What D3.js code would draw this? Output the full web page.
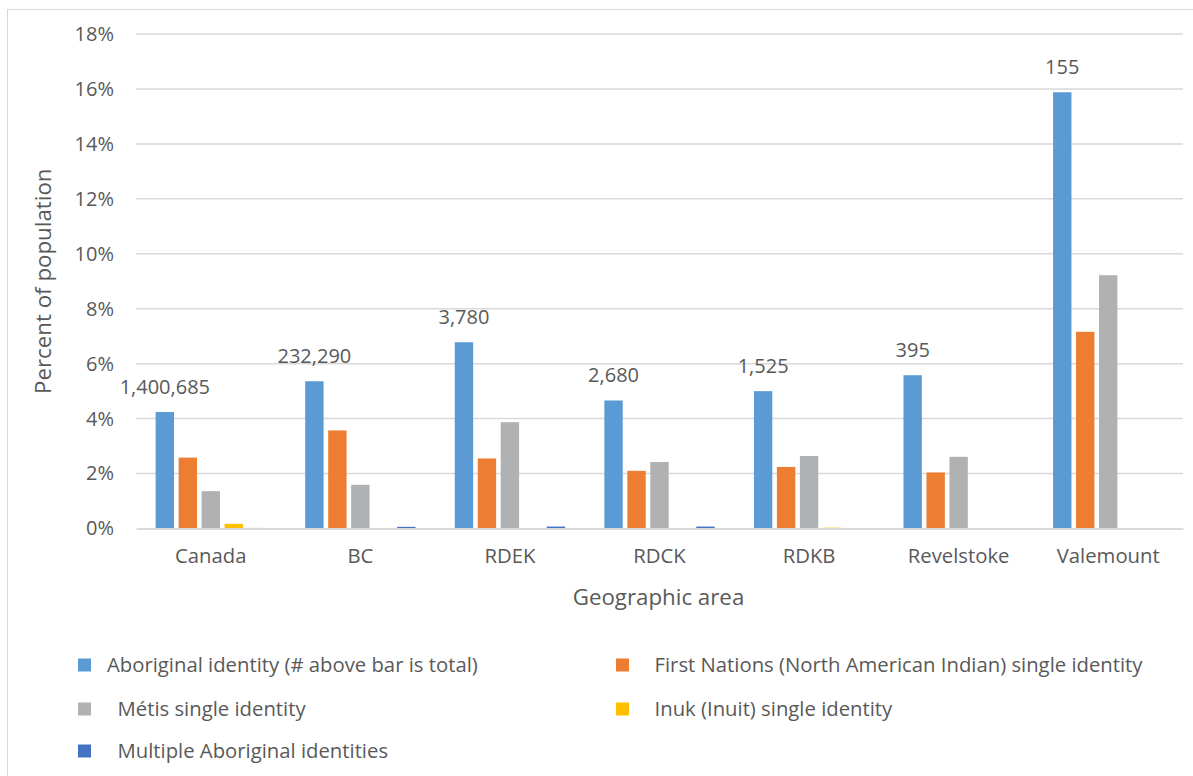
<!DOCTYPE html>
<html>
<head>
<meta charset="utf-8">
<script src="https://cdn.jsdelivr.net/npm/d3@7"></script>
<style>
  html, body { margin: 0; padding: 0; background: #fff; }
  svg { display: block; font-family: "Open Sans", "DejaVu Sans", sans-serif; }
  text { white-space: pre; }
</style>
</head>
<body>
<svg id="chart" width="1193" height="776"></svg>
<script>
// Geographic areas along the x axis
const areas = ["Canada", "BC", "RDEK", "RDCK", "RDKB", "Revelstoke", "Valemount"];

// Series names (leading spaces kept as in the legend entries)
const seriesNames = [
  "Aboriginal identity (# above bar is total)",
  "  First Nations (North American Indian) single identity",
  "  Métis single identity",
  "  Inuk (Inuit) single identity",
  "  Multiple Aboriginal identities"
];
const seriesColors = ["#5B9BD5", "#ED7D31", "#B0B1B2", "#FFC000", "#4472C4"];

// Percent of population, one array per series (same order as areas)
const aboriginal   = [4.24, 5.36, 6.78, 4.66, 5.00, 5.58, 15.88];
const firstNations = [2.58, 3.57, 2.55, 2.10, 2.24, 2.04, 7.16];
const metis        = [1.36, 1.59, 3.87, 2.42, 2.64, 2.61, 9.22];
const inuk         = [0.17, 0.01, 0.00, 0.00, 0.03, 0.00, 0.00];
const multiple     = [0.02, 0.06, 0.07, 0.07, 0.01, 0.00, 0.00];

// Total Aboriginal identity counts shown above the first bar of each group
const totals = ["1,400,685", "232,290", "3,780", "2,680", "1,525", "395", "155"];

// Y axis ticks
const yTicks = [0, 2, 4, 6, 8, 10, 12, 14, 16, 18];

const seriesValues = [aboriginal, firstNations, metis, inuk, multiple];

const svg = d3.select("#chart");
const textColor = "#595959";
const gridColor = "#D9D9D9";

const plot = { left: 136, right: 1183, top: 34, bottom: 528.5 };

// Chart frame
svg.append("rect")
  .attr("x", 7.5).attr("y", 9.5)
  .attr("width", 1200).attr("height", 800)
  .attr("fill", "none")
  .attr("stroke", gridColor)
  .attr("stroke-width", 1);

const y = d3.scaleLinear().domain([0, 18]).range([plot.bottom, plot.top]);

const x0 = d3.scaleBand()
  .domain(areas)
  .range([plot.left, plot.right])
  .paddingInner(0.2625)
  .paddingOuter(0.13125);

const x1 = d3.scaleBand()
  .domain(d3.range(seriesNames.length))
  .range([0, x0.bandwidth()])
  .paddingInner(0.2);

// Gridlines
svg.append("g")
  .selectAll("line")
  .data(yTicks.filter(d => d > 0))
  .join("line")
  .attr("x1", plot.left).attr("x2", plot.right)
  .attr("y1", d => y(d)).attr("y2", d => y(d))
  .attr("stroke", gridColor)
  .attr("stroke-width", 1.5);

// Y tick labels
const yAxis = d3.axisLeft(y)
  .tickValues(yTicks)
  .tickFormat(d => d + "%")
  .tickSize(0)
  .tickPadding(22);
const gy = svg.append("g").attr("transform", `translate(${plot.left},0)`).call(yAxis);
gy.select(".domain").remove();
gy.selectAll("text")
  .attr("fill", textColor)
  .style("font-size", "20px")
  .style("font-family", "'Open Sans', sans-serif");

// Bars
const groups = svg.append("g")
  .selectAll("g")
  .data(areas)
  .join("g")
  .attr("transform", d => `translate(${x0(d)},0)`);

groups.selectAll("rect")
  .data((d, i) => seriesValues.map((vals, s) => ({ s, v: vals[i] })))
  .join("rect")
  .attr("x", d => x1(d.s))
  .attr("width", x1.bandwidth())
  .attr("y", d => y(d.v))
  .attr("height", d => y(0) - y(d.v))
  .attr("fill", d => seriesColors[d.s]);

// Total labels above the Aboriginal identity bars
groups.append("text")
  .attr("x", x1(0) + x1.bandwidth() / 2)
  .attr("y", (d, i) => y(aboriginal[i]) - 18)
  .attr("text-anchor", "middle")
  .attr("fill", textColor)
  .style("font-size", "20px")
  .text((d, i) => totals[i]);

// X axis baseline and category labels
const xAxis = d3.axisBottom(x0).tickSize(0).tickPadding(20);
const gx = svg.append("g").attr("transform", `translate(0,${plot.bottom})`).call(xAxis);
gx.select(".domain").attr("stroke", gridColor).attr("stroke-width", 2);
gx.selectAll("text")
  .attr("fill", textColor)
  .style("font-size", "20.3px")
  .style("font-family", "'Open Sans', sans-serif");

// Axis titles
svg.append("text")
  .attr("x", (plot.left + plot.right) / 2 - 1)
  .attr("y", 605)
  .attr("text-anchor", "middle")
  .attr("fill", textColor)
  .style("font-size", "22.3px")
  .text("Geographic area");

svg.append("text")
  .attr("transform", `translate(51,${(plot.top + plot.bottom) / 2}) rotate(-90)`)
  .attr("text-anchor", "middle")
  .attr("fill", textColor)
  .style("font-size", "22.3px")
  .text("Percent of population");

// Legend: two columns, filled row by row
const legendCols = [78, 616];
const legendRows = [665, 709, 751];
const legend = svg.append("g")
  .selectAll("g")
  .data(seriesNames)
  .join("g")
  .attr("transform", (d, i) => `translate(${legendCols[i % 2]},${legendRows[Math.floor(i / 2)]})`);

legend.append("rect")
  .attr("x", 0).attr("y", -6.5)
  .attr("width", 13).attr("height", 13)
  .attr("fill", (d, i) => seriesColors[i]);

legend.append("text")
  .attr("x", (d, i) => i % 2 === 0 ? 29 : 28)
  .attr("y", 0)
  .attr("dy", "0.35em")
  .attr("fill", textColor)
  .style("font-size", "20.3px")
  .text(d => d);
</script>
</body>
</html>
